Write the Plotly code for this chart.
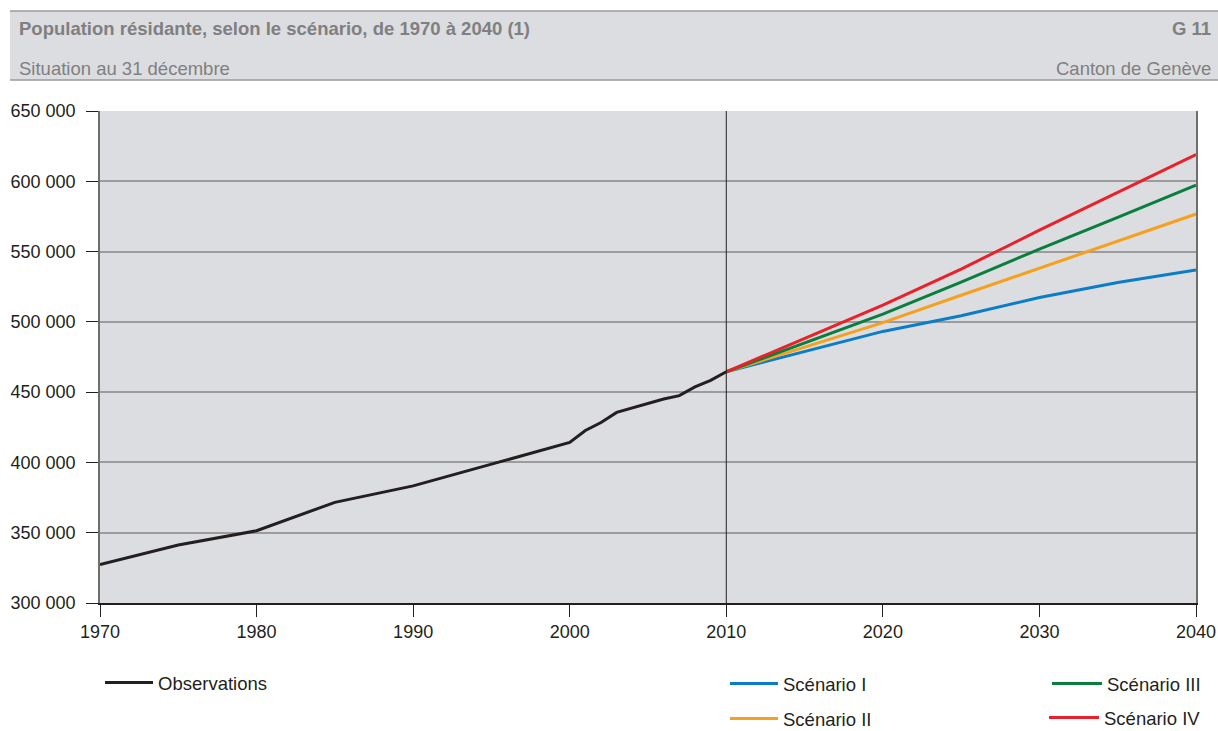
import plotly.graph_objects as go

# ---- data ----
obs_years = [1970, 1975, 1980, 1985, 1990, 1995, 2000, 2001, 2002, 2003, 2004,
             2005, 2006, 2007, 2008, 2009, 2010]
obs_values = [327400, 341200, 351400, 371600, 383300, 398800, 414200, 422700,
              428400, 435600, 438700, 441600, 445100, 447500, 453700, 458400, 464500]

scen_years = [2010, 2015, 2020, 2025, 2030, 2035, 2040]
scen_I = [464500, 479000, 493200, 504300, 517300, 528000, 536900]
scen_II = [464500, 482000, 499500, 518900, 538300, 557600, 576700]
scen_III = [464500, 485000, 505500, 528200, 551800, 574300, 597200]
scen_IV = [464500, 488200, 511900, 537500, 565200, 592100, 619000]

scen_names = ["Scénario I", "Scénario II", "Scénario III", "Scénario IV"]
scen_colors = ["#0b7dc6", "#f6a11e", "#0a7e3e", "#e8212a"]

x_ticks = [1970, 1980, 1990, 2000, 2010, 2020, 2030, 2040]
projection_start = 2010

title_text = "Population résidante, selon le scénario, de 1970 à 2040 (1)"
graph_no = "G 11"
subtitle_text = "Situation au 31 décembre"
region_text = "Canton de Genève"

FONT = "Liberation Sans, Arial, sans-serif"
BG = "#dcdde0"

fig = go.Figure()

fig.add_trace(go.Scatter(x=obs_years, y=obs_values, mode="lines", name="Observations",
                         line=dict(color="#231f20", width=3), legend="legend"))

legend_ids = ["legend2", "legend3", "legend4", "legend5"]
for vals, nm, col, lg in zip([scen_I, scen_II, scen_III, scen_IV], scen_names, scen_colors, legend_ids):
    fig.add_trace(go.Scatter(x=scen_years, y=vals, mode="lines", name=nm,
                             line=dict(color=col, width=3), legend=lg))

fig.add_vline(x=projection_start, line=dict(color="#231f20", width=1))

W, H = 1218, 731
L, R, T, B = 100, 22, 111, 128
pw, ph = W - L - R, H - T - B


def px(xp):
    return (xp - L) / pw


def py(yp):
    return (H - B - yp) / ph


def cy(yp):
    return 1 - yp / H


# header band
fig.add_shape(type="rect", xref="paper", yref="paper", x0=px(10), x1=px(1218),
              y0=py(80), y1=py(11), fillcolor=BG, line=dict(width=0), layer="below")
for yy in (11, 80):
    fig.add_shape(type="line", xref="paper", yref="paper", x0=px(10), x1=px(1218),
                  y0=py(yy), y1=py(yy), line=dict(color="#9a9a9a", width=1.5))

hdr_color = "#808080"
HS = 18.5
fig.add_annotation(text="<b>" + title_text + "</b>", xref="paper", yref="paper",
                   x=px(17), y=py(29), xanchor="left", yanchor="middle", showarrow=False,
                   font=dict(family=FONT, size=HS, color=hdr_color))
fig.add_annotation(text="<b>" + graph_no + "</b>", xref="paper", yref="paper",
                   x=px(1213), y=py(29), xanchor="right", yanchor="middle", showarrow=False,
                   font=dict(family=FONT, size=HS, color=hdr_color))
fig.add_annotation(text=subtitle_text, xref="paper", yref="paper",
                   x=px(17), y=py(69), xanchor="left", yanchor="middle", showarrow=False,
                   font=dict(family=FONT, size=HS, color=hdr_color))
fig.add_annotation(text=region_text, xref="paper", yref="paper",
                   x=px(1213), y=py(69), xanchor="right", yanchor="middle", showarrow=False,
                   font=dict(family=FONT, size=HS, color=hdr_color))

leg_common = dict(bgcolor="rgba(0,0,0,0)", borderwidth=0, yanchor="middle",
                  xref="paper", yref="container",
                  font=dict(family=FONT, size=18.5, color="#231f20"),
                  itemclick=False, itemdoubleclick=False)

fig.update_layout(
    width=W, height=H,
    margin=dict(l=L, r=R, t=T, b=B, autoexpand=False),
    paper_bgcolor="white",
    plot_bgcolor=BG,
    separators=", ",
    font=dict(family=FONT, size=18, color="#231f20"),
    showlegend=True,
    legend=dict(x=px(100), y=cy(683), xanchor="left", itemwidth=48, **leg_common),
    legend2=dict(x=px(725), y=cy(684), xanchor="left", itemwidth=48, **leg_common),
    legend3=dict(x=px(725), y=cy(719), xanchor="left", itemwidth=48, **leg_common),
    legend4=dict(x=px(1206), y=cy(684), xanchor="right", itemwidth=50, **leg_common),
    legend5=dict(x=px(1206), y=cy(718), xanchor="right", itemwidth=50, **leg_common),
    xaxis=dict(range=[1970, 2040], tickvals=x_ticks, showgrid=False, zeroline=False,
               showline=True, linecolor="#231f20", linewidth=1.5, automargin=False,
               ticks="outside", ticklen=12, tickcolor="#231f20", tickwidth=1,
               tickfont=dict(family=FONT, size=18, color="#231f20")),
    yaxis=dict(range=[300000, 650000], dtick=50000, tickformat=",d", automargin=False,
               showgrid=True, gridcolor="#9c9c9c", gridwidth=1.5, zeroline=False,
               showline=True, linecolor="#6e6e6e", linewidth=1.5, mirror=True,
               ticks="outside", ticklen=12, tickcolor="#231f20", tickwidth=1,
               ticklabelstandoff=7,
               tickfont=dict(family=FONT, size=18, color="#231f20")),
)

fig.write_html("out.html", config={"displayModeBar": False},
               post_script="document.body.style.margin='0';document.body.style.overflow='hidden';")
